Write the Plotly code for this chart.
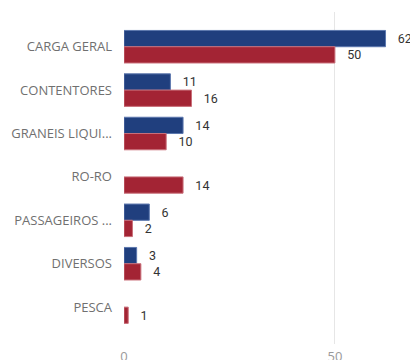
import plotly.graph_objects as go

categories = ["CARGA GERAL", "CONTENTORES", "GRANEIS LIQUI...", "RO-RO",
              "PASSAGEIROS ...", "DIVERSOS", "PESCA"]
series_blue = [62, 11, 14, None, 6, 3, None]
series_red = [50, 16, 10, 14, 2, 4, 1]

BLUE = "#203F7E"
RED = "#A32434"


def labels(vals):
    return ["   " + str(v) if v is not None else "" for v in vals]


fig = go.Figure()
fig.add_trace(go.Bar(
    y=categories, x=series_blue, orientation="h",
    marker=dict(color=BLUE, line=dict(color="#5C77AE", width=1)),
    text=labels(series_blue), textposition="outside", cliponaxis=False,
    textfont=dict(family="Roboto", size=12.5, color="#333333"),
    showlegend=False,
))
fig.add_trace(go.Bar(
    y=categories, x=series_red, orientation="h",
    marker=dict(color=RED, line=dict(color="#C9707A", width=1)),
    text=labels(series_red), textposition="outside", cliponaxis=False,
    textfont=dict(family="Roboto", size=12.5, color="#333333"),
    showlegend=False,
))

fig.update_layout(
    width=410, height=360,
    margin=dict(l=124, r=0, t=12, b=16, autoexpand=False),
    barmode="group", bargap=0.25, bargroupgap=0,
    plot_bgcolor="white", paper_bgcolor="white",
    font=dict(family="Open Sans", size=13, color="#777777"),
    xaxis=dict(range=[0, 67.8], tickvals=[0, 50], showgrid=True,
               gridcolor="#E6E6E6", gridwidth=1, zeroline=False,
               showline=False, ticklabelstandoff=3, automargin=False,
               tickfont=dict(size=13, color="#999999")),
    yaxis=dict(range=[6.85, -0.8], type="category", showgrid=False,
               zeroline=False, showline=False, ticklabelstandoff=11,
               automargin=False, tickfont=dict(size=13, color="#707070")),
)

fig.write_html("out.html")
